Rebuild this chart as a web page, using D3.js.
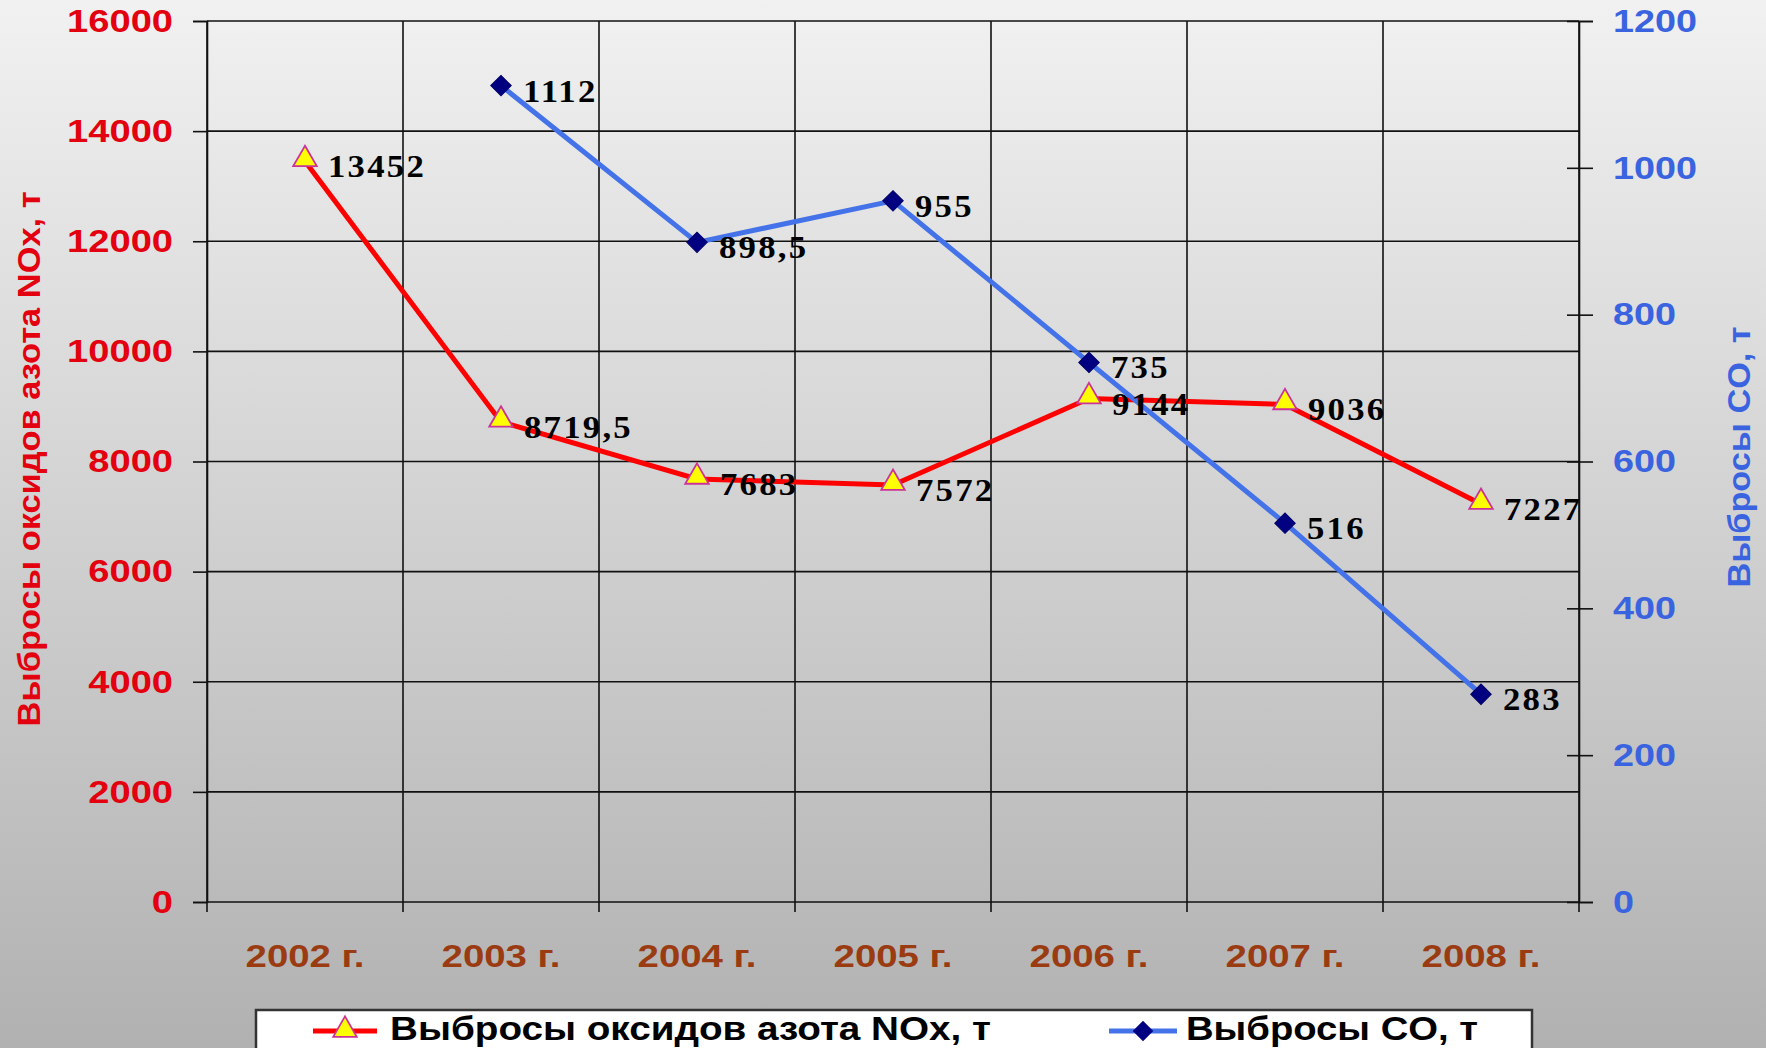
<!DOCTYPE html>
<html><head><meta charset="utf-8">
<script src="https://cdn.jsdelivr.net/npm/d3@7"></script>
<style>html,body{margin:0;padding:0;overflow:hidden;}svg{display:block;}</style>
</head><body>
<svg id="c" width="1766" height="1048"></svg>
<script>
const years = ["2002 г.","2003 г.","2004 г.","2005 г.","2006 г.","2007 г.","2008 г."];
const noxValues = [13452, 8719.5, 7683, 7572, 9144, 9036, 7227];
const noxLabels = ["13452","8719,5","7683","7572","9144","9036","7227"];
const coValues = [null, 1112, 898.5, 955, 735, 516, 283];
const coLabels = ["","1112","898,5","955","735","516","283"];
const leftTicks = [0,2000,4000,6000,8000,10000,12000,14000,16000];
const rightTicks = [0,200,400,600,800,1000,1200];
const leftTitle = "Выбросы оксидов азота NOx, т";
const rightTitle = "Выбросы CO, т";
const legendNames = ["Выбросы оксидов азота NOx, т","Выбросы CO, т"];

const svg = d3.select("#c");
const W=1766,H=1048;
const defs = svg.append("defs");
const g = defs.append("linearGradient").attr("id","bg").attr("x1",0).attr("y1",0).attr("x2",0).attr("y2",1);
g.append("stop").attr("offset","0").attr("stop-color","#f1f1f1");
g.append("stop").attr("offset","1").attr("stop-color","#b1b1b1");
svg.append("rect").attr("width",W).attr("height",H).attr("fill","url(#bg)");

const L=207,R=1579,T=21,B=902;
const x = d3.scaleBand().domain(years).range([L,R]).padding(0);
const yL = d3.scaleLinear().domain([0,16000]).range([B,T]);
const yR = d3.scaleLinear().domain([0,1200]).range([B,T]);
const SANS = "'Liberation Sans',Arial,sans-serif";
function stretch(sel, k){
  sel.each(function(){ const w=this.getComputedTextLength(); d3.select(this).attr("textLength",w*k).attr("lengthAdjust","spacingAndGlyphs"); });
}

// horizontal gridlines
svg.append("g").selectAll("line").data(leftTicks).join("line")
  .attr("x1",L).attr("x2",R).attr("y1",d=>yL(d)).attr("y2",d=>yL(d))
  .attr("stroke","#111").attr("stroke-width",1.6);
// vertical gridlines (category boundaries)
const bounds = years.map(d=>x(d)).concat([R]);
svg.append("g").selectAll("line").data(bounds).join("line")
  .attr("x1",d=>d).attr("x2",d=>d).attr("y1",T).attr("y2",B+10)
  .attr("stroke","#111").attr("stroke-width",1.6);

// left axis
const axL = svg.append("g").attr("transform",`translate(${L},0)`)
  .call(d3.axisLeft(yL).tickValues(leftTicks).tickSize(14).tickPadding(20).tickFormat(d3.format("d")));
axL.select(".domain").attr("stroke","#111").attr("stroke-width",1.6);
axL.selectAll(".tick line").attr("stroke","#111").attr("stroke-width",1.6);
axL.selectAll(".tick text").attr("fill","#e3000f").attr("font-family",SANS)
  .attr("font-weight","bold").attr("font-size",32).call(stretch,1.19);

// right axis
const axR = svg.append("g").attr("transform",`translate(${R},0)`)
  .call(d3.axisRight(yR).tickValues(rightTicks).tickSize(14).tickPadding(20).tickFormat(d3.format("d")));
axR.select(".domain").attr("stroke","#111").attr("stroke-width",1.6);
axR.selectAll(".tick line").attr("x1",-12).attr("stroke","#111").attr("stroke-width",1.6);
axR.selectAll(".tick text").attr("fill","#3a63e0").attr("font-family",SANS)
  .attr("font-weight","bold").attr("font-size",32).call(stretch,1.18);

// x labels
svg.append("g").selectAll("text").data(years).join("text")
  .attr("x",d=>x(d)+x.bandwidth()/2).attr("y",967).attr("text-anchor","middle")
  .attr("fill","#9a3b12").attr("font-family",SANS)
  .attr("font-weight","bold").attr("font-size",32).text(d=>d).call(stretch,1.2);

// axis titles
svg.append("text").attr("transform",`translate(40,459) rotate(-90)`).attr("text-anchor","middle")
  .attr("fill","#e3000f").attr("font-family",SANS).attr("font-weight","bold")
  .attr("font-size",31).attr("textLength",535).attr("lengthAdjust","spacingAndGlyphs").text(leftTitle);
svg.append("text").attr("transform",`translate(1750,457) rotate(-90)`).attr("text-anchor","middle")
  .attr("fill","#3a63e0").attr("font-family",SANS).attr("font-weight","bold")
  .attr("font-size",31).attr("textLength",261).attr("lengthAdjust","spacingAndGlyphs").text(rightTitle);

const cx = i => x(years[i]) + x.bandwidth()/2;
const noxData = noxValues.map((v,i)=>({i,v,l:noxLabels[i]}));
const coData = coValues.map((v,i)=>({i,v,l:coLabels[i]})).filter(d=>d.v!=null);

// lines
svg.append("path").datum(noxData).attr("fill","none").attr("stroke","#ff0000").attr("stroke-width",5)
  .attr("d",d3.line().x(d=>cx(d.i)).y(d=>yL(d.v)));
svg.append("path").datum(coData).attr("fill","none").attr("stroke","#4472e8").attr("stroke-width",5)
  .attr("d",d3.line().x(d=>cx(d.i)).y(d=>yR(d.v)));

// markers
const tri = d3.symbol().type(d3.symbolTriangle).size(240);
svg.append("g").selectAll("path").data(noxData).join("path")
  .attr("transform",d=>`translate(${cx(d.i)},${yL(d.v)-2})`).attr("d",tri())
  .attr("fill","#ffff00").attr("stroke","#cc3399").attr("stroke-width",1.8);
const dia = d3.symbol().type(d3.symbolSquare).size(210);
svg.append("g").selectAll("path").data(coData).join("path")
  .attr("transform",d=>`translate(${cx(d.i)},${yR(d.v)}) rotate(45)`).attr("d",dia())
  .attr("fill","#000080").attr("stroke","#000066").attr("stroke-width",1);

// data labels
const lblFont = "'Liberation Serif','Times New Roman',serif";
svg.append("g").selectAll("text").data(noxData).join("text")
  .attr("x",d=>cx(d.i)+23).attr("y",d=>yL(d.v)+16)
  .attr("font-family",lblFont).attr("font-weight","bold").attr("font-size",31)
  .attr("letter-spacing",2).attr("fill","#000").text(d=>d.l).call(stretch,1.12);
svg.append("g").selectAll("text").data(coData).join("text")
  .attr("x",d=>cx(d.i)+22).attr("y",d=>yR(d.v)+16)
  .attr("font-family",lblFont).attr("font-weight","bold").attr("font-size",31)
  .attr("letter-spacing",2).attr("fill","#000").text(d=>d.l).call(stretch,1.12);

// legend
const lg = svg.append("g");
lg.append("rect").attr("x",256).attr("y",1010).attr("width",1276).attr("height",60)
  .attr("fill","#ffffff").attr("stroke","#333").attr("stroke-width",2.5);
lg.append("line").attr("x1",313).attr("x2",377).attr("y1",1031).attr("y2",1031).attr("stroke","#ff0000").attr("stroke-width",5);
lg.append("path").attr("transform","translate(345,1030)").attr("d",tri())
  .attr("fill","#ffff00").attr("stroke","#cc3399").attr("stroke-width",1.8);
lg.append("text").attr("x",390).attr("y",1040).attr("font-family",SANS)
  .attr("font-weight","bold").attr("font-size",33).attr("textLength",601).attr("lengthAdjust","spacingAndGlyphs")
  .attr("fill","#000").text(legendNames[0]);
lg.append("line").attr("x1",1109).attr("x2",1177).attr("y1",1031).attr("y2",1031).attr("stroke","#4472e8").attr("stroke-width",5);
lg.append("path").attr("transform","translate(1143,1031) rotate(45)").attr("d",dia())
  .attr("fill","#000080");
lg.append("text").attr("x",1186).attr("y",1040).attr("font-family",SANS)
  .attr("font-weight","bold").attr("font-size",33).attr("textLength",292).attr("lengthAdjust","spacingAndGlyphs")
  .attr("fill","#000").text(legendNames[1]);
</script>
</body></html>
